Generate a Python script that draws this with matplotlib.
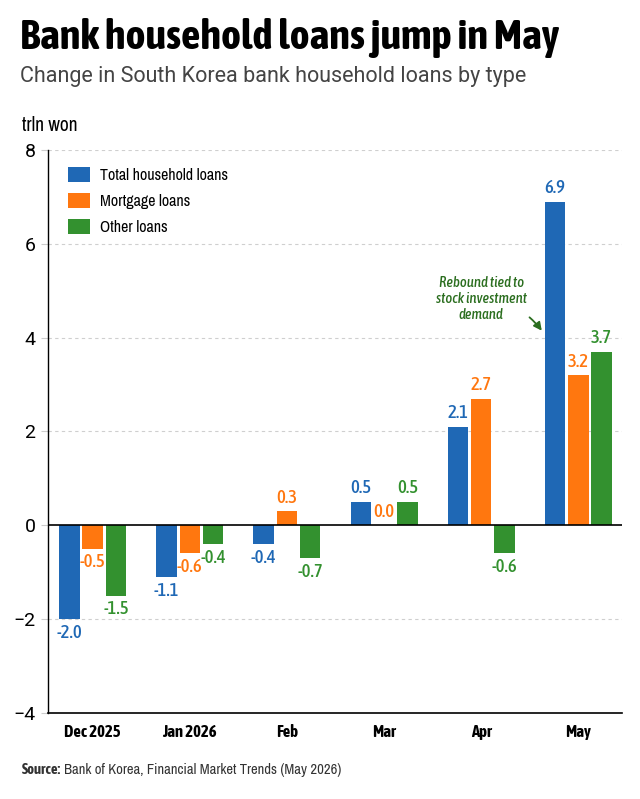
import numpy as np
import matplotlib.pyplot as plt
from matplotlib import font_manager

# data (trln won)
months = ["Dec 2025", "Jan 2026", "Feb", "Mar", "Apr", "May"]
total = [-2.0, -1.1, -0.4, 0.5, 2.1, 6.9]
mortgage = [-0.5, -0.6, 0.3, 0.0, 2.7, 3.2]
other = [-1.5, -0.4, -0.7, 0.5, -0.6, 3.7]

series = [("Total household loans", total, "#1f68b5"),
          ("Mortgage loans", mortgage, "#ff770f"),
          ("Other loans", other, "#33912f")]


# look for a condensed/narrow face; fall back to Roboto
def wnum(w):
    return w if isinstance(w, int) else font_manager.weight_dict.get(w, 400)


cond = [f for f in font_manager.fontManager.ttflist
        if ("Condensed" in f.name or "Narrow" in f.name
            or f.stretch == "condensed") and "DejaVu" not in f.name]


def pick(weight=400, style="normal", size=12):
    c = [f for f in cond if f.style == style] or cond
    if not c:
        return dict(family=["Roboto", "DejaVu Sans"], fontweight=weight,
                    fontstyle=style, fontsize=size)
    f = min(c, key=lambda f: abs(wnum(f.weight) - weight))
    return dict(fontproperties=font_manager.FontProperties(fname=f.fname,
                                                           size=size))


fig = plt.figure(figsize=(6.4, 7.99), dpi=100)
ax = fig.add_axes([0.075, 0.1076, 0.897, 0.7047])

x = np.arange(len(months))
w = 0.21
off = 0.24
for i, (name, vals, col) in enumerate(series):
    pos = x + (i - 1) * off
    ax.bar(pos, vals, width=w, color=col, label=name, zorder=3)
    for p, v in zip(pos, vals):
        va = "bottom" if v >= 0 else "top"
        dy = 0.1 if v >= 0 else -0.1
        ax.text(p, v + dy, f"{v:.1f}", ha="center", va=va, color=col,
                **pick(500, size=13.5))

ax.set_ylim(-4, 8)
ax.set_xlim(-0.46, 5.45)
ax.set_yticks(range(-4, 9, 2))
ax.set_yticklabels([f"{t}".replace("-", "\u2212") for t in range(-4, 9, 2)],
                   fontsize=14, family=["Roboto", "DejaVu Sans"])
ax.set_xticks(x)
ax.set_xticklabels(months, **pick(700, size=12))
ax.tick_params(axis="x", length=0, pad=8)
ax.tick_params(axis="y", length=5, width=0.8, color="#cccccc", pad=4)

for t in [8, 6, 4, 2, -2]:
    ax.axhline(t, color="#cfcfcf", lw=0.8, ls=(0, (3, 3)), zorder=1)
ax.axhline(0, color="black", lw=1.2, zorder=4)

for s in ["top", "right"]:
    ax.spines[s].set_visible(False)
ax.spines["left"].set_linewidth(1.0)
ax.spines["bottom"].set_linewidth(1.2)

legfont = pick(400, size=11.5).get("fontproperties")
ax.legend(loc="upper left", bbox_to_anchor=(0.01, 0.995), frameon=False,
          prop=legfont, handlelength=1.4, handleheight=1.1,
          labelspacing=0.6, handletextpad=0.6)

# annotation
ax.annotate("Rebound tied to\nstock investment\ndemand",
            xy=(4.64, 4.1), xytext=(4.0, 4.82),
            ha="center", va="center", color="#2b6e1f", linespacing=1.2,
            arrowprops=dict(arrowstyle="-|>", color="#2b6e1f", lw=1.3,
                            connectionstyle="arc3,rad=-0.25",
                            shrinkA=30, shrinkB=2, mutation_scale=12),
            zorder=5, **pick(500, "italic", 10.5))

fig.text(0.031, 0.952, "Bank household loans jump in May",
         va="center", ha="left", **pick(700, size=30.5))
fig.text(0.031, 0.904, "Change in South Korea bank household loans by type",
         fontsize=15.5, color="#444444", va="center", ha="left",
         family=["Roboto", "DejaVu Sans"])
fig.text(0.034, 0.843, "trln won", va="center", ha="left",
         **pick(400, size=14))
src = fig.text(0.034, 0.036, "Source:", color="#333333", va="center",
               ha="left", **pick(700, size=10.5))
fig.canvas.draw()
bb = src.get_window_extent()
fig.text(bb.x1 / fig.bbox.width + 0.005, 0.036,
         "Bank of Korea, Financial Market Trends (May 2026)",
         color="#333333", va="center", ha="left", **pick(400, size=10.5))

fig.savefig("out.png", dpi=100, facecolor="white")
